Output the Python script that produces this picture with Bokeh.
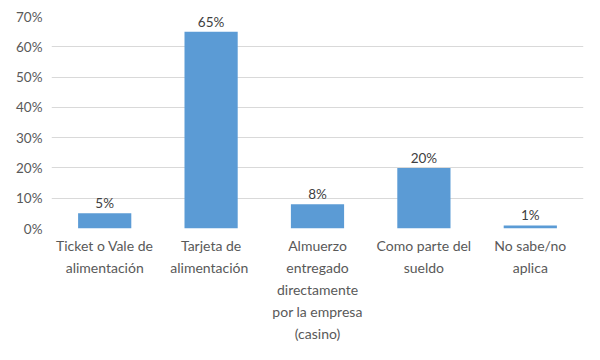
from bokeh.plotting import figure
from bokeh.models import (ColumnDataSource, NumeralTickFormatter, FixedTicker, Range1d,
                          FactorRange, CategoricalAxis)
from bokeh.embed import file_html
from bokeh.resources import INLINE
from bokeh.core.properties import value

categories = ["Ticket o Vale de alimentación", "Tarjeta de alimentación",
              "Almuerzo entregado directamente por la empresa (casino)",
              "Como parte del sueldo", "No sabe/no aplica"]
wrapped = ["Ticket o Vale de\nalimentación", "Tarjeta de\nalimentación",
           "Almuerzo\nentregado\ndirectamente\npor la empresa\n(casino)",
           "Como parte del\nsueldo", "No sabe/no\naplica"]
values = [0.05, 0.65, 0.08, 0.20, 0.01]
labels = ["5%", "65%", "8%", "20%", "1%"]
y_ticks = [0, 0.1, 0.2, 0.3, 0.4, 0.5, 0.6, 0.7]

FONT = "Lato"
source = ColumnDataSource(dict(cat=categories, val=values, lab=labels))

p = figure(x_range=categories, y_range=Range1d(0, 0.7), width=584, height=344,
           output_backend="svg", toolbar_location=None, x_axis_location=None,
           min_border_left=51, min_border_right=1, min_border_top=16, min_border_bottom=101)
p.outline_line_color = None
p.background_fill_color = "white"
p.border_fill_color = "white"

p.vbar(x="cat", top="val", width=0.5, source=source, color="#5B9BD5", line_color=None)
p.text(x="cat", y="val", text="lab", source=source, text_align="center",
       text_baseline="bottom", y_offset=-2, text_font=value(FONT),
       text_font_size="13.5px", text_color="#404040")

p.xgrid.grid_line_color = None
p.ygrid.grid_line_color = "#D9D9D9"
p.ygrid.grid_line_width = 1

p.yaxis.ticker = FixedTicker(ticks=y_ticks)
p.yaxis.formatter = NumeralTickFormatter(format="0%")
p.yaxis.axis_line_color = None
p.yaxis.major_tick_line_color = None
p.yaxis.minor_tick_line_color = None
p.yaxis.major_tick_out = 0
p.yaxis.minor_tick_out = 0
p.yaxis.major_label_standoff = 9
p.yaxis.major_label_text_font = FONT
p.yaxis.major_label_text_font_size = "13.5px"
p.yaxis.major_label_text_color = "#595959"

# category labels: one categorical axis per text line, so every line is centred
split = [w.split("\n") for w in wrapped]
n_rows = max(len(s) for s in split)
for row in range(n_rows):
    factors, seen = [], set()
    for i, parts in enumerate(split):
        f = parts[row] if row < len(parts) else " " * (i + 1)
        while f in seen:
            f = f + " "
        seen.add(f)
        factors.append(f)
    name = "row%d" % row
    p.extra_x_ranges[name] = FactorRange(factors=factors)
    ax = CategoricalAxis(x_range_name=name)
    ax.axis_line_color = None
    ax.major_tick_line_color = None
    ax.minor_tick_line_color = None
    ax.major_tick_out = 0
    ax.major_tick_in = 0
    ax.minor_tick_out = 0
    ax.minor_tick_in = 0
    ax.major_label_standoff = 8 if row == 0 else 2
    ax.major_label_text_font = FONT
    ax.major_label_text_font_size = "14px"
    ax.major_label_text_color = "#595959"
    p.add_layout(ax, "below")

open("out.html", "w").write(file_html(p, INLINE))
